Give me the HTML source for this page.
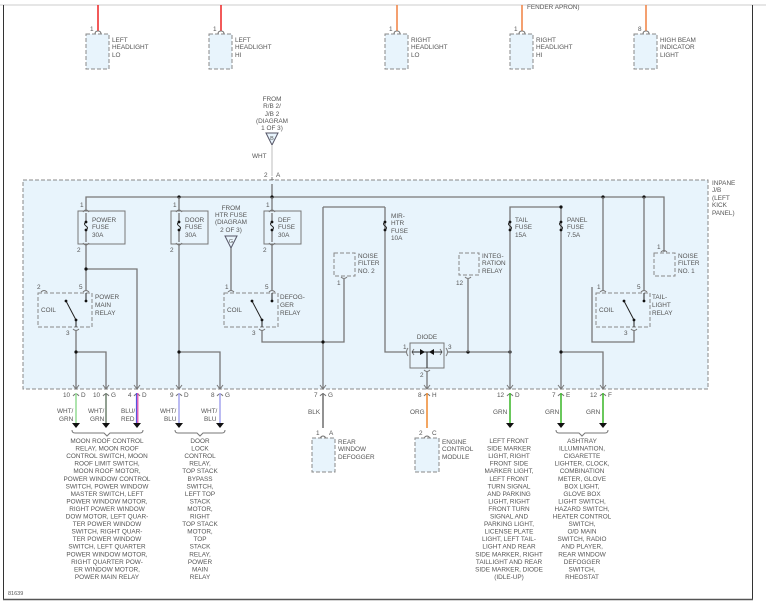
<!DOCTYPE html>
<html><head><meta charset="utf-8"><style>
html,body{margin:0;padding:0;background:#fff;width:766px;height:613px;overflow:hidden}
svg{display:block}
text{font-family:"Liberation Sans",sans-serif;font-size:6.4px;fill:#555}
.w{stroke:#777;stroke-width:1.3;fill:none}
.b{fill:#e8f4fc;stroke:#888;stroke-width:1;stroke-dasharray:4,2}
.f{fill:#e8f4fc;stroke:#777;stroke-width:1}
.c{stroke:#777;stroke-width:1;fill:none}
.m{text-anchor:middle}
</style></head><body>
<svg width="766" height="613" viewBox="0 0 766 613">
<!-- frame -->
<line x1="0" y1="5" x2="766" y2="5" stroke="#ccc" stroke-width="1"/>
<line x1="3.5" y1="5" x2="3.5" y2="600" stroke="#333" stroke-width="1"/>
<line x1="752.5" y1="5" x2="752.5" y2="600" stroke="#333" stroke-width="1"/>
<line x1="3" y1="599.5" x2="753" y2="599.5" stroke="#555" stroke-width="1.5"/>
<text x="8" y="595" style="font-size:5.5px">81639</text>

<!-- top components -->
<g>
<line x1="98" y1="5" x2="98" y2="31" stroke="#e22" stroke-width="1.5"/>
<line x1="221" y1="5" x2="221" y2="31" stroke="#e22" stroke-width="1.5"/>
<line x1="397" y1="5" x2="397" y2="31" stroke="#f08040" stroke-width="1.5"/>
<line x1="522" y1="5" x2="522" y2="31" stroke="#f08040" stroke-width="1.5"/>
<line x1="646" y1="5" x2="646" y2="31" stroke="#f08040" stroke-width="1.5"/>
<text x="527" y="9">FENDER APRON)</text>
<rect class="b" x="86" y="34" width="23" height="35"/>
<rect class="b" x="209" y="34" width="23" height="35"/>
<rect class="b" x="385" y="34" width="23" height="35"/>
<rect class="b" x="510" y="34" width="23" height="35"/>
<rect class="b" x="634" y="34" width="23" height="35"/>
<path class="c" d="M95,34 q0,-3 3,-3 q3,0 3,3 M218,34 q0,-3 3,-3 q3,0 3,3 M394,34 q0,-3 3,-3 q3,0 3,3 M519,34 q0,-3 3,-3 q3,0 3,3 M643,34 q0,-3 3,-3 q3,0 3,3"/>
<text x="90" y="31">1</text><text x="213" y="31">1</text><text x="389" y="31">1</text><text x="514" y="31">1</text><text x="638" y="31">8</text>
<text x="112" y="42">LEFT</text><text x="112" y="49">HEADLIGHT</text><text x="112" y="57">LO</text>
<text x="235" y="42">LEFT</text><text x="235" y="49">HEADLIGHT</text><text x="235" y="57">HI</text>
<text x="411" y="42">RIGHT</text><text x="411" y="49">HEADLIGHT</text><text x="411" y="57">LO</text>
<text x="536" y="42">RIGHT</text><text x="536" y="49">HEADLIGHT</text><text x="536" y="57">HI</text>
<text x="660" y="42">HIGH BEAM</text><text x="660" y="49">INDICATOR</text><text x="660" y="57">LIGHT</text>
</g>

<!-- FROM R/B -->
<text class="m" x="272" y="101">FROM</text><text class="m" x="272" y="108">R/B 2/</text><text class="m" x="272" y="116">J/B 2</text><text class="m" x="272" y="123">(DIAGRAM</text><text class="m" x="272" y="130">1 OF 3)</text>
<path d="M266,133 L278,133 L272,145 Z" fill="#e8f4fc" stroke="#556" stroke-width="1"/>
<text class="m" x="272" y="140" style="font-size:5.5px">B</text>
<text x="252" y="158">WHT</text>
<line x1="272" y1="145" x2="272" y2="176" stroke="#ccc" stroke-width="1.3"/>
<text x="264" y="177">2</text><text x="276" y="177">A</text>
<path class="c" d="M269,181 q3,-3 6,0 M272,177 L272,184"/>

<!-- inpane box -->
<rect x="23" y="180" width="685" height="209" fill="#e8f4fc" stroke="#888" stroke-width="1" stroke-dasharray="4,2"/>
<text x="712" y="185">INPANE</text><text x="712" y="192">J/B</text><text x="712" y="200">(LEFT</text><text x="712" y="207">KICK</text><text x="712" y="215">PANEL)</text>

<!-- bus -->
<path class="w" d="M86,210 V197 H664 V252"/>
<path class="w" d="M272,184 V197"/>
<g fill="#111"><circle cx="179" cy="197" r="1.6"/><circle cx="272" cy="197" r="1.6"/><circle cx="603" cy="197" r="1.6"/><circle cx="644" cy="197" r="1.6"/></g>

<!-- fuses 30A -->
<g>
<rect class="f" x="78" y="211" width="47" height="33"/>
<rect class="f" x="171" y="211" width="37" height="33"/>
<rect class="f" x="264" y="211" width="37" height="33"/>
<path class="w" d="M179,197 V210 M272,197 V210"/>
<path class="c" d="M83,212 q3,-4 6,0 M176,212 q3,-4 6,0 M269,212 q3,-4 6,0 M83,243 q3,4 6,0 M176,243 q3,4 6,0 M269,243 q3,4 6,0"/>
<path class="w" d="M86,213 V222 M86,230 V242 M179,213 V222 M179,230 V242 M272,213 V222 M272,230 V242"/>
<path stroke="#222" stroke-width="1" fill="none" d="M86,222 q-3,2 0,4 q3,2 0,4 M179,222 q-3,2 0,4 q3,2 0,4 M272,222 q-3,2 0,4 q3,2 0,4"/>
<g fill="#111"><circle cx="86" cy="222" r="1.4"/><circle cx="86" cy="230" r="1.4"/><circle cx="179" cy="222" r="1.4"/><circle cx="179" cy="230" r="1.4"/><circle cx="272" cy="222" r="1.4"/><circle cx="272" cy="230" r="1.4"/></g>
<text x="80" y="207">1</text><text x="173" y="207">1</text><text x="266" y="207">1</text>
<text x="77" y="252">2</text><text x="170" y="252">2</text><text x="263" y="252">2</text>
<text x="92" y="222">POWER</text><text x="92" y="229">FUSE</text><text x="92" y="237">30A</text>
<text x="185" y="222">DOOR</text><text x="185" y="229">FUSE</text><text x="185" y="237">30A</text>
<text x="278" y="222">DEF</text><text x="278" y="229">FUSE</text><text x="278" y="237">30A</text>
</g>

<!-- power main relay -->
<path class="w" d="M86,245 V291 M86,269 H137 V389"/>
<circle cx="86" cy="269" r="1.6" fill="#111"/>
<rect class="b" x="38" y="293" width="54" height="34"/>
<path class="c" d="M41,292 q3,-3 6,0 M83,292 q3,-3 6,0 M73,329 q3,3 6,0"/>
<text x="37" y="289">2</text><text x="79" y="289">5</text><text x="66" y="335">3</text>
<text x="41" y="312">COIL</text>
<text x="95" y="299">POWER</text><text x="95" y="307">MAIN</text><text x="95" y="315">RELAY</text>
<path stroke="#222" stroke-width="1" fill="none" d="M66,301 L76,320 M86,293 V301 M76,320 V327"/>
<g fill="#111"><circle cx="66" cy="301" r="1.4"/><circle cx="76" cy="320" r="1.4"/><circle cx="86" cy="301" r="1.4"/></g>
<path class="w" d="M76,330 V389 M76,352 H106 V389"/>
<circle cx="76" cy="352" r="1.6" fill="#111"/>

<!-- door fuse down -->
<path class="w" d="M179,245 V389 M179,352 H220 V389"/>
<circle cx="179" cy="352" r="1.6" fill="#111"/>

<!-- HTR fuse + defog relay -->
<text class="m" x="231" y="210">FROM</text><text class="m" x="231" y="217">HTR FUSE</text><text class="m" x="231" y="224">(DIAGRAM</text><text class="m" x="231" y="232">2 OF 3)</text>
<path d="M225,236 L237,236 L231,248 Z" fill="#e8f4fc" stroke="#556" stroke-width="1"/>
<text class="m" x="231" y="243" style="font-size:5.5px">G</text>
<path class="w" d="M231,248 V291 M272,245 V291"/>
<rect class="b" x="224" y="293" width="54" height="34"/>
<path class="c" d="M228,292 q3,-3 6,0 M269,292 q3,-3 6,0 M259,329 q3,3 6,0"/>
<text x="225" y="289">1</text><text x="265" y="289">5</text><text x="252" y="335">3</text>
<text x="227" y="312">COIL</text>
<text x="280" y="299">DEFOG-</text><text x="280" y="307">GER</text><text x="280" y="315">RELAY</text>
<path stroke="#222" stroke-width="1" fill="none" d="M252,301 L262,320 M272,293 V301 M262,320 V327"/>
<g fill="#111"><circle cx="252" cy="301" r="1.4"/><circle cx="262" cy="320" r="1.4"/><circle cx="272" cy="301" r="1.4"/></g>
<path class="w" d="M262,330 V342 H344 V279 M323,207 H385 M323,207 V389"/>
<circle cx="323" cy="342" r="1.6" fill="#111"/>

<!-- noise filter 2 -->
<rect class="b" x="334" y="253" width="21" height="23"/>
<path class="c" d="M341,277 q3,3 6,0"/>
<text x="337" y="285">1</text>
<text x="358" y="258">NOISE</text><text x="358" y="265">FILTER</text><text x="358" y="273">NO. 2</text>

<!-- MIR-HTR -->
<path class="w" d="M385,207 V352 H406"/>
<path stroke="#222" stroke-width="1" fill="none" d="M385,222 q-3,2 0,4 q3,2 0,4"/>
<g fill="#111"><circle cx="385" cy="222" r="1.4"/><circle cx="385" cy="230" r="1.4"/></g>
<text x="391" y="218">MIR-</text><text x="391" y="225">HTR</text><text x="391" y="233">FUSE</text><text x="391" y="240">10A</text>

<!-- diode -->
<rect class="f" x="410" y="343" width="34" height="25"/>
<text class="m" x="427" y="339">DIODE</text>
<text x="403" y="349">1</text><text x="448" y="349">3</text><text x="420" y="377">2</text>
<path class="c" d="M408,348 q-3,4 0,8 M446,348 q3,4 0,8 M414,349 l-2,3 l2,3 M440,349 l2,3 l-2,3"/>
<path stroke="#222" stroke-width="1" fill="none" d="M412,352 H442 M427,352 V368"/>
<path d="M420,349 L425,352 L420,355 Z M434,349 L429,352 L434,355 Z" fill="#111"/>
<path class="w" d="M448,352 H510 M427,371 V389"/>
<path class="c" d="M424,370 q3,3 6,0"/>
<g fill="#111"><circle cx="468" cy="352" r="1.6"/><circle cx="510" cy="352" r="1.6"/></g>

<!-- integration relay -->
<rect class="b" x="459" y="253" width="20" height="22"/>
<path class="c" d="M465,277 q3,3 6,0"/>
<path class="w" d="M468,279 V352"/>
<text x="456" y="285">12</text>
<text x="482" y="258">INTEG-</text><text x="482" y="265">RATION</text><text x="482" y="273">RELAY</text>

<!-- tail / panel fuses -->
<path class="w" d="M510,389 V207 H561 V389 M561,352 H603 V389"/>
<g fill="#111"><circle cx="561" cy="207" r="1.6"/><circle cx="561" cy="352" r="1.6"/></g>
<path stroke="#222" stroke-width="1" fill="none" d="M510,222 q-3,2 0,4 q3,2 0,4 M561,222 q-3,2 0,4 q3,2 0,4"/>
<g fill="#111"><circle cx="510" cy="222" r="1.4"/><circle cx="510" cy="230" r="1.4"/><circle cx="561" cy="222" r="1.4"/><circle cx="561" cy="230" r="1.4"/></g>
<text x="515" y="222">TAIL</text><text x="515" y="229">FUSE</text><text x="515" y="237">15A</text>
<text x="567" y="222">PANEL</text><text x="567" y="229">FUSE</text><text x="567" y="237">7.5A</text>

<!-- tail-light relay -->
<path class="w" d="M603,197 V291 M644,197 V291"/>
<rect class="b" x="596" y="293" width="54" height="34"/>
<path class="c" d="M600,292 q3,-3 6,0 M641,292 q3,-3 6,0 M631,329 q3,3 6,0"/>
<text x="597" y="289">1</text><text x="637" y="289">5</text><text x="624" y="335">3</text>
<text x="599" y="312">COIL</text>
<text x="652" y="299">TAIL-</text><text x="652" y="307">LIGHT</text><text x="652" y="315">RELAY</text>
<path stroke="#222" stroke-width="1" fill="none" d="M624,301 L634,320 M644,293 V301 M634,320 V327"/>
<g fill="#111"><circle cx="624" cy="301" r="1.4"/><circle cx="634" cy="320" r="1.4"/><circle cx="644" cy="301" r="1.4"/></g>
<path class="w" d="M634,330 V342 H592 V287"/>

<!-- noise filter 1 -->
<rect class="b" x="654" y="253" width="21" height="23"/>
<path class="c" d="M661,252 q3,-3 6,0"/>
<text x="657" y="249">1</text>
<text x="678" y="258">NOISE</text><text x="678" y="265">FILTER</text><text x="678" y="273">NO. 1</text>

<!-- bottom connectors -->
<g class="c">
<path d="M73,385 l3,4 l3,-4 M73,396 q3,-4 6,0 M103,385 l3,4 l3,-4 M103,396 q3,-4 6,0 M134,385 l3,4 l3,-4 M134,396 q3,-4 6,0 M176,385 l3,4 l3,-4 M176,396 q3,-4 6,0 M217,385 l3,4 l3,-4 M217,396 q3,-4 6,0 M320,385 l3,4 l3,-4 M320,396 q3,-4 6,0 M424,385 l3,4 l3,-4 M424,396 q3,-4 6,0 M507,385 l3,4 l3,-4 M507,396 q3,-4 6,0 M558,385 l3,4 l3,-4 M558,396 q3,-4 6,0 M600,385 l3,4 l3,-4 M600,396 q3,-4 6,0"/>
</g>
<text x="63" y="397">10</text><text x="81" y="397">D</text>
<text x="93" y="397">10</text><text x="111" y="397">G</text>
<text x="128" y="397">4</text><text x="142" y="397">D</text>
<text x="170" y="397">9</text><text x="184" y="397">D</text>
<text x="211" y="397">8</text><text x="225" y="397">G</text>
<text x="314" y="397">7</text><text x="328" y="397">G</text>
<text x="418" y="397">8</text><text x="432" y="397">H</text>
<text x="497" y="397">12</text><text x="515" y="397">D</text>
<text x="552" y="397">7</text><text x="566" y="397">E</text>
<text x="590" y="397">12</text><text x="608" y="397">F</text>

<!-- wires -->
<line x1="76" y1="393" x2="76" y2="424" stroke="#9d9" stroke-width="1.6"/>
<line x1="106" y1="393" x2="106" y2="424" stroke="#787" stroke-width="1.6"/>
<line x1="136.5" y1="393" x2="136.5" y2="424" stroke="#55d" stroke-width="1.2"/>
<line x1="137.8" y1="393" x2="137.8" y2="424" stroke="#d4a" stroke-width="1.2"/>
<line x1="179" y1="393" x2="179" y2="424" stroke="#aae" stroke-width="1.6"/>
<line x1="220" y1="393" x2="220" y2="424" stroke="#aae" stroke-width="1.6"/>
<line x1="323" y1="393" x2="323" y2="428" stroke="#777" stroke-width="1.6"/>
<line x1="427" y1="393" x2="427" y2="428" stroke="#f0903a" stroke-width="1.6"/>
<line x1="510" y1="393" x2="510" y2="424" stroke="#4b3" stroke-width="1.6"/>
<line x1="561" y1="393" x2="561" y2="424" stroke="#4b3" stroke-width="1.6"/>
<line x1="603" y1="393" x2="603" y2="424" stroke="#4b3" stroke-width="1.6"/>
<g fill="#111">
<path d="M72,423 h8 l-4,5 z M102,423 h8 l-4,5 z M133,423 h8 l-4,5 z M175,423 h8 l-4,5 z M216,423 h8 l-4,5 z M506,423 h8 l-4,5 z M557,423 h8 l-4,5 z M599,423 h8 l-4,5 z"/>
</g>
<text x="57" y="413">WHT/</text><text x="59" y="421">GRN</text>
<text x="88" y="413">WHT/</text><text x="90" y="421">GRN</text>
<text x="121" y="413">BLU/</text><text x="121" y="421">RED</text>
<text x="160" y="413">WHT/</text><text x="164" y="421">BLU</text>
<text x="201" y="413">WHT/</text><text x="204" y="421">BLU</text>
<text x="308" y="414">BLK</text>
<text x="410" y="414">ORG</text>
<text x="493" y="414">GRN</text><text x="545" y="414">GRN</text><text x="586" y="414">GRN</text>

<!-- braces -->
<path class="c" d="M72,430 q0,3 3,3 H104 l3,3 l3,-3 H140 q3,0 3,-3"/>
<path class="c" d="M175,430 q0,3 3,3 H197 l3,3 l3,-3 H222 q3,0 3,-3"/>
<path class="c" d="M556,430 q0,3 3,3 H579 l3,3 l3,-3 H605 q3,0 3,-3"/>

<!-- rear window defogger -->
<text x="316" y="435">1</text><text x="329" y="435">A</text>
<path class="c" d="M320,438 q3,-4 6,0"/>
<rect class="b" x="312" y="438" width="23" height="34"/>
<text x="338" y="444">REAR</text><text x="338" y="451">WINDOW</text><text x="338" y="459">DEFOGGER</text>
<!-- ECM -->
<text x="419" y="435">2</text><text x="432" y="435">C</text>
<path class="c" d="M424,438 q3,-4 6,0"/>
<rect class="b" x="415" y="438" width="24" height="34"/>
<text x="442" y="444">ENGINE</text><text x="442" y="451">CONTROL</text><text x="442" y="459">MODULE</text>

<!-- text blocks -->
<text class="m" x="107" y="443"><tspan x="107">MOON ROOF CONTROL</tspan><tspan x="107" dy="7.55">RELAY, MOON ROOF</tspan><tspan x="107" dy="7.55">CONTROL SWITCH, MOON</tspan><tspan x="107" dy="7.55">ROOF LIMIT SWITCH,</tspan><tspan x="107" dy="7.55">MOON ROOF MOTOR,</tspan><tspan x="107" dy="7.55">POWER WINDOW CONTROL</tspan><tspan x="107" dy="7.55">SWITCH, POWER WINDOW</tspan><tspan x="107" dy="7.55">MASTER SWITCH, LEFT</tspan><tspan x="107" dy="7.55">POWER WINDOW MOTOR,</tspan><tspan x="107" dy="7.55">RIGHT POWER WINDOW</tspan><tspan x="107" dy="7.55">DOW MOTOR, LEFT QUAR-</tspan><tspan x="107" dy="7.55">TER POWER WINDOW</tspan><tspan x="107" dy="7.55">SWITCH, RIGHT QUAR-</tspan><tspan x="107" dy="7.55">TER POWER WINDOW</tspan><tspan x="107" dy="7.55">SWITCH, LEFT QUARTER</tspan><tspan x="107" dy="7.55">POWER WINDOW MOTOR,</tspan><tspan x="107" dy="7.55">RIGHT QUARTER POW-</tspan><tspan x="107" dy="7.55">ER WINDOW MOTOR,</tspan><tspan x="107" dy="7.55">POWER MAIN RELAY</tspan></text>
<text class="m" x="200" y="443"><tspan x="200">DOOR</tspan><tspan x="200" dy="7.55">LOCK</tspan><tspan x="200" dy="7.55">CONTROL</tspan><tspan x="200" dy="7.55">RELAY,</tspan><tspan x="200" dy="7.55">TOP STACK</tspan><tspan x="200" dy="7.55">BYPASS</tspan><tspan x="200" dy="7.55">SWITCH,</tspan><tspan x="200" dy="7.55">LEFT TOP</tspan><tspan x="200" dy="7.55">STACK</tspan><tspan x="200" dy="7.55">MOTOR,</tspan><tspan x="200" dy="7.55">RIGHT</tspan><tspan x="200" dy="7.55">TOP STACK</tspan><tspan x="200" dy="7.55">MOTOR,</tspan><tspan x="200" dy="7.55">TOP</tspan><tspan x="200" dy="7.55">STACK</tspan><tspan x="200" dy="7.55">RELAY,</tspan><tspan x="200" dy="7.55">POWER</tspan><tspan x="200" dy="7.55">MAIN</tspan><tspan x="200" dy="7.55">RELAY</tspan></text>
<text class="m" x="509" y="443"><tspan x="509">LEFT FRONT</tspan><tspan x="509" dy="7.55">SIDE MARKER</tspan><tspan x="509" dy="7.55">LIGHT, RIGHT</tspan><tspan x="509" dy="7.55">FRONT SIDE</tspan><tspan x="509" dy="7.55">MARKER LIGHT,</tspan><tspan x="509" dy="7.55">LEFT FRONT</tspan><tspan x="509" dy="7.55">TURN SIGNAL</tspan><tspan x="509" dy="7.55">AND PARKING</tspan><tspan x="509" dy="7.55">LIGHT, RIGHT</tspan><tspan x="509" dy="7.55">FRONT TURN</tspan><tspan x="509" dy="7.55">SIGNAL AND</tspan><tspan x="509" dy="7.55">PARKING LIGHT,</tspan><tspan x="509" dy="7.55">LICENSE PLATE</tspan><tspan x="509" dy="7.55">LIGHT, LEFT TAIL-</tspan><tspan x="509" dy="7.55">LIGHT AND REAR</tspan><tspan x="509" dy="7.55">SIDE MARKER, RIGHT</tspan><tspan x="509" dy="7.55">TAILLIGHT AND REAR</tspan><tspan x="509" dy="7.55">SIDE MARKER, DIODE</tspan><tspan x="509" dy="7.55">(IDLE-UP)</tspan></text>
<text class="m" x="582" y="443"><tspan x="582">ASHTRAY</tspan><tspan x="582" dy="7.55">ILLUMINATION,</tspan><tspan x="582" dy="7.55">CIGARETTE</tspan><tspan x="582" dy="7.55">LIGHTER, CLOCK,</tspan><tspan x="582" dy="7.55">COMBINATION</tspan><tspan x="582" dy="7.55">METER, GLOVE</tspan><tspan x="582" dy="7.55">BOX LIGHT,</tspan><tspan x="582" dy="7.55">GLOVE BOX</tspan><tspan x="582" dy="7.55">LIGHT SWITCH,</tspan><tspan x="582" dy="7.55">HAZARD SWITCH,</tspan><tspan x="582" dy="7.55">HEATER CONTROL</tspan><tspan x="582" dy="7.55">SWITCH,</tspan><tspan x="582" dy="7.55">O/D MAIN</tspan><tspan x="582" dy="7.55">SWITCH, RADIO</tspan><tspan x="582" dy="7.55">AND PLAYER,</tspan><tspan x="582" dy="7.55">REAR WINDOW</tspan><tspan x="582" dy="7.55">DEFOGGER</tspan><tspan x="582" dy="7.55">SWITCH,</tspan><tspan x="582" dy="7.55">RHEOSTAT</tspan></text>
</svg>
</body></html>
